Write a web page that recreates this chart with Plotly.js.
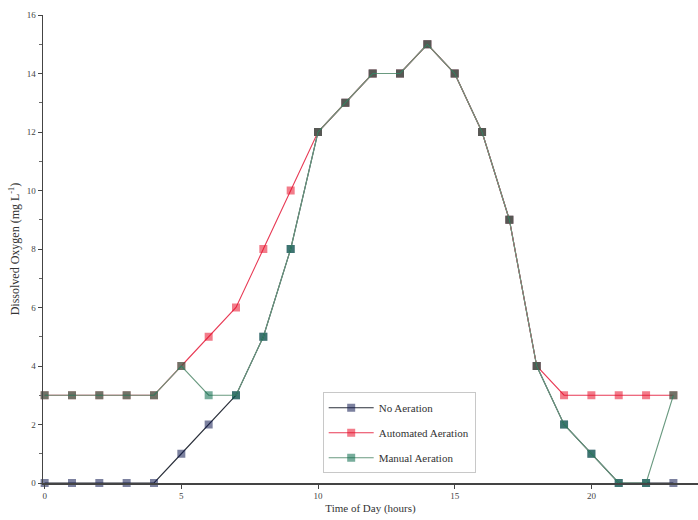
<!DOCTYPE html>
<html>
<head>
<meta charset="utf-8">
<script src="https://cdn.plot.ly/plotly-3.0.1.min.js"></script>
<style>html,body{margin:0;padding:0;background:#fff;}#chart{width:698px;height:520px;}</style>
</head>
<body>
<div id="chart"></div>
<script>
const hours = [0,1,2,3,4,5,6,7,8,9,10,11,12,13,14,15,16,17,18,19,20,21,22,23];
const noAeration        = [0,0,0,0,0,1,2,3,5,8,12,13,14,14,15,14,12,9,4,2,1,0,0,0];
const automatedAeration = [3,3,3,3,3,4,5,6,8,10,12,13,14,14,15,14,12,9,4,3,3,3,3,3];
const manualAeration    = [3,3,3,3,3,4,3,3,5,8,12,13,14,14,15,14,12,9,4,2,1,0,0,3];
const seriesNames = ["No Aeration", "Automated Aeration", "Manual Aeration"];
const xTickVals = [0,5,10,15,20];
const yTickVals = [0,2,4,6,8,10,12,14,16];

const serif = "Liberation Serif, Times New Roman, serif";

function trace(y, name, lineColor, markerColor, rank) {
  return {
    x: hours, y: y, name: name, type: "scatter", mode: "lines+markers",
    legendgroup: name, legendrank: rank,
    line: {color: lineColor, width: 1.1},
    marker: {symbol: "square", size: 8, color: markerColor, opacity: 0.55,
             line: {width: 0}},
    cliponaxis: false
  };
}

const data = [
  trace(noAeration, seriesNames[0], "#2a2f3a", "#101a50", 1),
  trace(automatedAeration, seriesNames[1], "#e83a55", "#e8102a", 2),
  trace(manualAeration, seriesNames[2], "#6a9a80", "#0a6a4a", 3)
];

const layout = {
  width: 698, height: 520,
  margin: {l: 43, r: 0, t: 15, b: 37},
  paper_bgcolor: "#ffffff", plot_bgcolor: "#ffffff",
  font: {family: serif, size: 9, color: "#333"},
  showlegend: true,
  legend: {
    x: 0.427, y: 0.194, xanchor: "left", yanchor: "top",
    bordercolor: "#c8c8c8", borderwidth: 1, bgcolor: "rgba(255,255,255,0)",
    font: {family: serif, size: 11, color: "#333"},
    traceorder: "grouped", tracegroupgap: 6, itemwidth: 45
  },
  xaxis: {
    range: [-0.06, 23.9],
    tickmode: "array", tickvals: xTickVals, ticktext: xTickVals.map(String),
    showgrid: false, zeroline: false,
    showline: true, linecolor: "#444", linewidth: 1.5,
    ticks: "outside", ticklen: 4, tickcolor: "#444",
    tickfont: {family: serif, size: 9, color: "#444"},
    title: {text: "Time of Day (hours)", font: {family: serif, size: 11, color: "#333"}, standoff: 4}
  },
  yaxis: {
    range: [0, 16],
    tickmode: "array", tickvals: yTickVals, ticktext: yTickVals.map(String),
    showgrid: false, zeroline: false,
    showline: true, linecolor: "#444", linewidth: 1.5,
    ticks: "outside", ticklen: 4, tickcolor: "#444",
    minor: {ticks: "outside", ticklen: 3, tickcolor: "#666", dtick: 1, showgrid: false},
    tickfont: {family: serif, size: 9, color: "#444"},
    title: {text: "Dissolved Oxygen (mg L<sup>-1</sup>)", font: {family: serif, size: 12, color: "#333"}, standoff: 4}
  }
};

Plotly.newPlot("chart", data, layout, {displayModeBar: false, staticPlot: true});
</script>
</body>
</html>
